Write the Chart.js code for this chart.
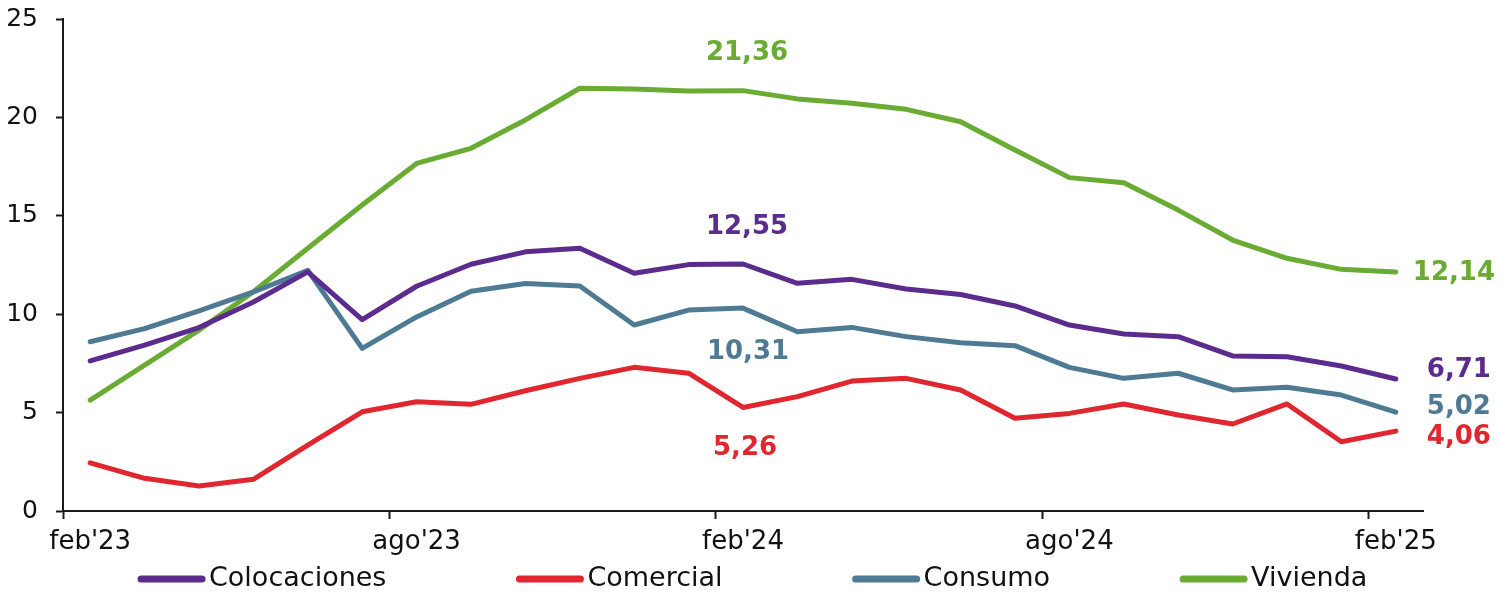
<!DOCTYPE html>
<html>
<head>
<meta charset="utf-8">
<script src="https://cdn.jsdelivr.net/npm/chart.js@4.4.1/dist/chart.umd.min.js"></script>
<style>
  html, body { margin: 0; padding: 0; background: #fff; }
  #caja { width: 1500px; height: 593px; position: relative; }
</style>
</head>
<body>
<div id="caja"><canvas id="tasas"></canvas></div>
<script>
// meses (feb'23 - feb'25)
var meses = ["feb'23","mar'23","abr'23","may'23","jun'23","jul'23","ago'23","sep'23","oct'23","nov'23","dic'23","ene'24",
             "feb'24","mar'24","abr'24","may'24","jun'24","jul'24","ago'24","sep'24","oct'24","nov'24","dic'24","ene'25","feb'25"];

var colocaciones = [7.63, 8.43, 9.32, 10.62, 12.15, 9.73, 11.42, 12.54, 13.17, 13.35, 12.08, 12.52,
                    12.55, 11.57, 11.77, 11.28, 11.00, 10.42, 9.45, 8.99, 8.86, 7.88, 7.84, 7.37, 6.71];
var comercial    = [2.45, 1.66, 1.27, 1.61, 3.35, 5.04, 5.55, 5.42, 6.11, 6.74, 7.30, 7.00,
                    5.26, 5.81, 6.60, 6.74, 6.15, 4.71, 4.96, 5.44, 4.88, 4.42, 5.44, 3.52, 4.06];
var consumo      = [8.60, 9.27, 10.17, 11.13, 12.23, 8.26, 9.86, 11.17, 11.56, 11.43, 9.45, 10.21,
                    10.31, 9.11, 9.33, 8.86, 8.55, 8.40, 7.30, 6.74, 7.00, 6.15, 6.29, 5.89, 5.02];
var vivienda     = [5.63, 7.41, 9.19, 11.14, 13.35, 15.55, 17.66, 18.43, 19.87, 21.48, 21.44, 21.34,
                    21.36, 20.94, 20.72, 20.41, 19.78, 18.34, 16.94, 16.68, 15.29, 13.77, 12.84, 12.28, 12.14];

var yTicks = [0, 5, 10, 15, 20, 25];

// etiquetas de valor: serie, indice del mes y desplazamiento en px
var etiquetas = [
    { serie: 3, idx: 12, dx: 4,  dy: -37, align: 'center' },
    { serie: 0, idx: 12, dx: 4,  dy: -37, align: 'center' },
    { serie: 2, idx: 12, dx: 5,  dy: 44,  align: 'center' },
    { serie: 1, idx: 12, dx: 2,  dy: 41,  align: 'center' },
    { serie: 3, idx: 24, dx: 17, dy: 1,   align: 'left' },
    { serie: 0, idx: 24, dx: 31, dy: -9,  align: 'left' },
    { serie: 2, idx: 24, dx: 31, dy: -5,  align: 'left' },
    { serie: 1, idx: 24, dx: 31, dy: 6,   align: 'left' }
];

var fuente = "'DejaVu Sans', Verdana, sans-serif";
var ejeColor = '#1a1a1a';

function serie(nombre, datos, color) {
    return {
        label: nombre,
        data: datos,
        borderColor: color,
        backgroundColor: color,
        borderWidth: 5,
        borderCapStyle: 'round',
        borderJoinStyle: 'round',
        pointRadius: 0,
        tension: 0,
        fill: false
    };
}

var pluginEtiquetas = {
    id: 'etiquetas',
    afterDatasetsDraw: function(chart) {
        var ctx = chart.ctx;
        var x = chart.scales.x, y = chart.scales.y;
        ctx.save();
        ctx.font = "bold 26px " + fuente;
        ctx.textBaseline = 'middle';
        etiquetas.forEach(function(e) {
            var ds = chart.data.datasets[e.serie];
            var v = ds.data[e.idx];
            ctx.fillStyle = ds.borderColor;
            ctx.textAlign = e.align;
            ctx.fillText(v.toFixed(2).replace('.', ','),
                x.getPixelForValue(e.idx) + e.dx,
                y.getPixelForValue(v) + e.dy);
        });
        ctx.restore();
    }
};

// leyenda abajo, con lineas largas
var pluginLeyenda = {
    id: 'leyendaLinea',
    afterDraw: function(chart) {
        var ctx = chart.ctx;
        var px = 138, py = 579;
        ctx.save();
        ctx.font = "27px " + fuente;
        ctx.textBaseline = 'middle';
        ctx.textAlign = 'left';
        chart.data.datasets.forEach(function(ds) {
            ctx.strokeStyle = ds.borderColor;
            ctx.lineWidth = 7;
            ctx.lineCap = 'round';
            ctx.beginPath();
            ctx.moveTo(px + 3, py);
            ctx.lineTo(px + 64, py);
            ctx.stroke();
            ctx.fillStyle = '#111';
            ctx.fillText(ds.label, px + 71, py);
            px += 71 + ctx.measureText(ds.label).width + 130;
        });
        ctx.restore();
    }
};

var ctxTasas = document.getElementById('tasas');
var grafico = new Chart(ctxTasas, {
    type: 'line',
    data: {
        labels: meses,
        datasets: [
            serie('Colocaciones', colocaciones, '#5B2C8E'),
            serie('Comercial', comercial, '#E0262F'),
            serie('Consumo', consumo, '#4E7B93'),
            serie('Vivienda', vivienda, '#6AAB34')
        ]
    },
    options: {
        responsive: true,
        maintainAspectRatio: false,
        animation: false,
        layout: { padding: { left: 0, right: 77, top: 19, bottom: 32 } },
        plugins: {
            legend: { display: false },
            tooltip: { enabled: false }
        },
        scales: {
            x: {
                type: 'category',
                offset: true,
                afterFit: function(s) {
                    s.height = 50;
                    s.paddingLeft = 0; s.paddingRight = 0;
                },
                grid: {
                    offset: true,
                    drawOnChartArea: false,
                    drawTicks: true,
                    tickLength: 8,
                    tickWidth: 2,
                    tickColor: function(c) {
                        return (c.index !== undefined && c.index % 6 === 0) ? ejeColor : 'rgba(0,0,0,0)';
                    }
                },
                border: { display: true, color: ejeColor, width: 2 },
                ticks: {
                    autoSkip: false,
                    maxRotation: 0,
                    padding: 8,
                    color: '#111',
                    font: { family: fuente, size: 26 },
                    callback: function(val, i) {
                        return i % 6 === 0 ? meses[i] : '';
                    }
                }
            },
            y: {
                min: 0,
                max: 25,
                afterFit: function(s) {
                    s.width = 63;
                    s.paddingTop = 0; s.paddingBottom = 0;
                },
                afterBuildTicks: function(s) {
                    s.ticks = yTicks.map(function(v) { return { value: v }; });
                },
                grid: {
                    drawOnChartArea: false,
                    drawTicks: true,
                    tickLength: 7,
                    tickWidth: 2,
                    tickColor: ejeColor
                },
                border: { display: true, color: ejeColor, width: 2 },
                ticks: {
                    padding: 18,
                    color: '#111',
                    font: { family: fuente, size: 25 }
                }
            }
        }
    },
    plugins: [pluginEtiquetas, pluginLeyenda]
});
</script>
</body>
</html>
